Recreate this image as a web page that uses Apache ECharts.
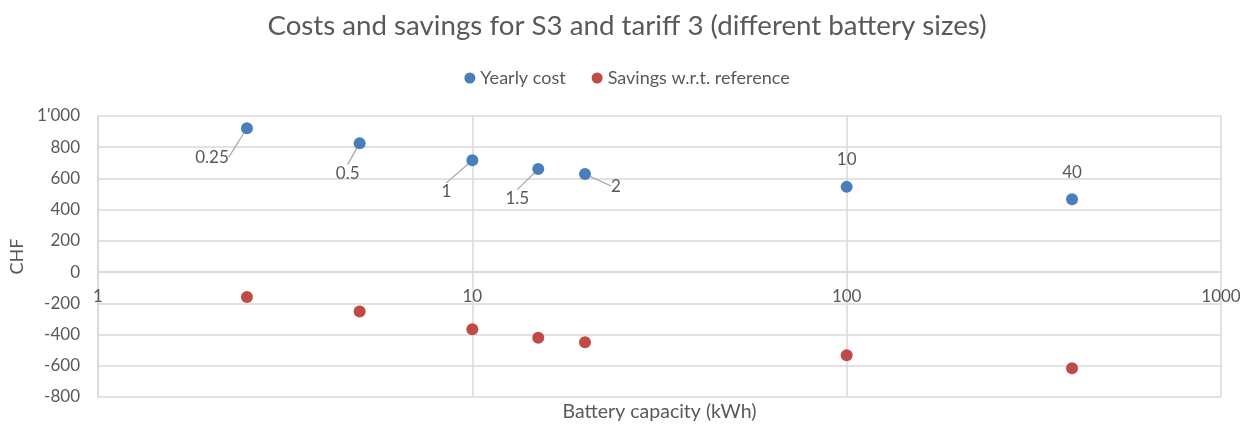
<!DOCTYPE html>
<html lang="en">
<head>
    <meta charset="UTF-8">
    <title>Costs and savings S3 tariff 3</title>
    <script src="https://cdn.jsdelivr.net/npm/echarts@6/dist/echarts.min.js"></script>
    <style>
        body { margin: 0; background: #fff; }
        #main { width: 1254px; height: 428px; }
    </style>
</head>
<body>
<div id="main"></div>
<script type="text/javascript">
    // data
    var capacity = [2.5, 5, 10, 15, 20, 100, 400];          // kWh
    var batterySizes = ['0.25', '0.5', '1', '1.5', '2', '10', '40'];
    var yearlyCost = [922, 826, 716, 660, 628, 546, 466];
    var savings = [-160, -252, -366, -420, -450, -532, -616];
    var yMin = -800, yMax = 1000, yStep = 200;

    // where the data labels sit relative to their point (dx, dy)
    var labelOffsets = [[-35, 29], [-12, 30], [-26, 31], [-21, 29], [31, 12], [0, -27], [0, -27]];

    var textColor = '#595959';
    var gridColor = '#d9d9d9';
    var font = 'Lato';

    var costData = capacity.map(function (c, i) {
        var item = { value: [c, yearlyCost[i]], name: batterySizes[i] };
        if (labelOffsets[i][0] === 0) item.labelLine = { show: false };
        return item;
    });
    var savingsData = capacity.map(function (c, i) {
        return [c, savings[i]];
    });

    var myChart = echarts.init(document.getElementById('main'));
    var option = {
        animation: false,
        textStyle: { fontFamily: font },
        title: {
            text: 'Costs and savings for S3 and tariff 3 (different battery sizes)',
            left: 'center',
            top: 7,
            textStyle: { fontFamily: font, fontSize: 27.7, fontWeight: 'normal', color: textColor }
        },
        legend: {
            top: 64,
            left: 'center',
            itemGap: 26,
            itemWidth: 11,
            itemHeight: 11,
            icon: 'circle',
            textStyle: { fontFamily: font, fontSize: 18, color: textColor },
            data: ['Yearly cost', 'Savings w.r.t. reference']
        },
        grid: { left: 98, right: 33, top: 116, bottom: 31, outerBoundsMode: 'none', containLabel: false },
        xAxis: {
            type: 'log',
            logBase: 10,
            min: 1,
            max: 1000,
            name: 'Battery capacity (kWh)',
            nameLocation: 'middle',
            nameGap: 130,
            nameTextStyle: { fontFamily: font, fontSize: 19.5, color: textColor },
            axisLine: { onZero: true, lineStyle: { color: gridColor, width: 1.5 } },
            axisTick: { show: false },
            axisLabel: {
                fontFamily: font, fontSize: 17, color: textColor, margin: 16,
                formatter: function (v) { return String(v); }
            },
            splitLine: { show: true, lineStyle: { color: gridColor, width: 1.5 } },
            minorTick: { show: false },
            minorSplitLine: { show: false }
        },
        yAxis: {
            type: 'value',
            min: yMin,
            max: yMax,
            interval: yStep,
            name: 'CHF',
            nameLocation: 'middle',
            nameGap: 72,
            nameTextStyle: { fontFamily: font, fontSize: 18, color: textColor },
            axisLine: { show: true, lineStyle: { color: gridColor, width: 1.5 } },
            axisTick: { show: false },
            axisLabel: {
                fontFamily: font, fontSize: 17, color: textColor, margin: 18,
                formatter: function (v) {
                    return v === 1000 ? "1'000" : String(v);
                }
            },
            splitLine: { show: true, lineStyle: { color: gridColor, width: 1.5 } }
        },
        series: [
            {
                name: 'Yearly cost',
                type: 'scatter',
                symbolSize: 12,
                itemStyle: { color: '#4a7ebb', opacity: 1 },
                data: costData,
                label: {
                    show: true,
                    position: 'inside',
                    formatter: '{b}',
                    fontFamily: font,
                    fontSize: 17,
                    color: textColor
                },
                labelLayout: function (params) {
                    var o = labelOffsets[params.dataIndex];
                    return { dx: o[0], dy: o[1] };
                },
                labelLine: {
                    show: true,
                    lineStyle: { color: '#a6a6a6', width: 1.2 }
                }
            },
            {
                name: 'Savings w.r.t. reference',
                type: 'scatter',
                symbolSize: 12,
                itemStyle: { color: '#be4b48', opacity: 1 },
                data: savingsData
            }
        ]
    };
    myChart.setOption(option);

    // put the x axis on the zero line (onZero is ignored here)
    var yZero = myChart.convertToPixel({ yAxisIndex: 0 }, 0);
    var yBottom = myChart.convertToPixel({ yAxisIndex: 0 }, yMin);
    myChart.setOption({ xAxis: { offset: yZero - yBottom } });
</script>
</body>
</html>
